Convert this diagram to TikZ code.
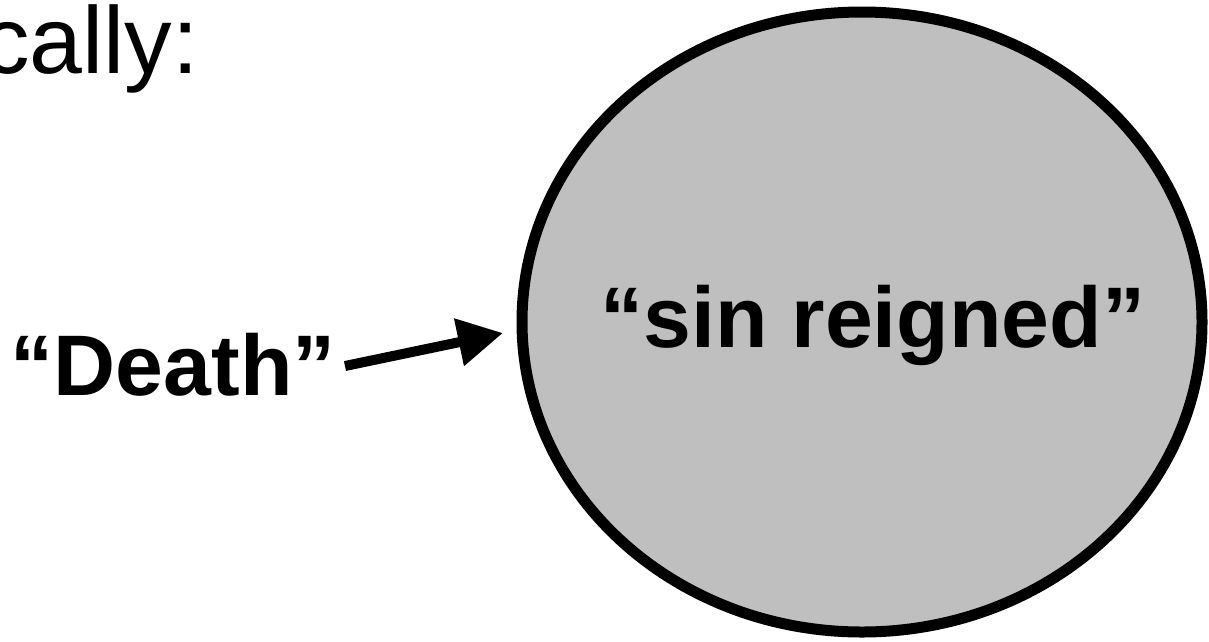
\documentclass[tikz,border=0pt]{standalone}
\usepackage{fontspec}
\setmainfont{Liberation Sans}
\usetikzlibrary{arrows.meta,shapes.geometric}
\begin{document}
\begin{tikzpicture}[x=1pt,y=-1pt,
  bigtext/.style={font=\fontsize{95}{110}\selectfont, inner sep=0pt},
  boldtext/.style={font=\fontsize{86}{100}\selectfont\bfseries, inner sep=0pt},
  blob/.style={ellipse, draw=black, line width=11pt, fill=black!25, minimum width=680pt, minimum height=620pt, inner sep=0pt},
  pointer/.style={line width=10pt, -{Triangle[length=45pt,width=46pt]}}]
\useasboundingbox (0,0) rectangle (1209,641);
\node[blob] (reign) at (862,322) {};
\node[boldtext, anchor=base] (sin) at (873,347) {“sin reigned”};
\node[bigtext, anchor=base west] (cally) at (-18,73) {cally:};
\node[boldtext, anchor=base east] (death) at (336,395) {“Death”};
\coordinate (tail) at (345,366);
\coordinate (tip) at (503,333);
\draw[pointer] (tail) -- (tip);
\end{tikzpicture}
\end{document}
